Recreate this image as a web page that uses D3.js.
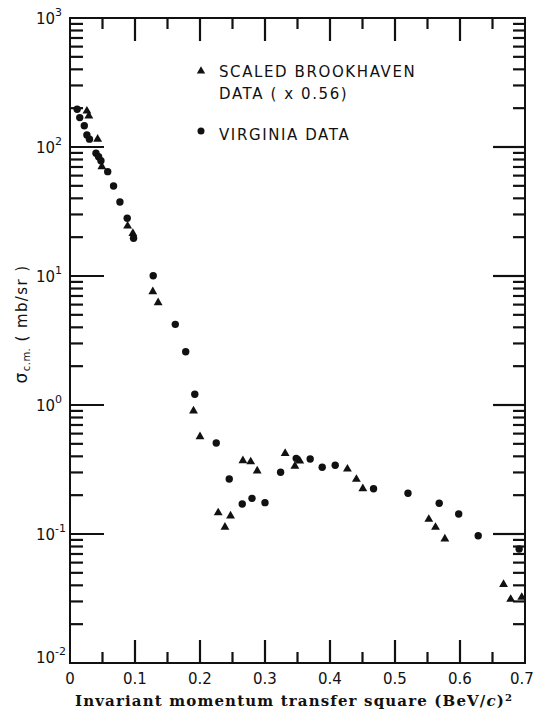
<!DOCTYPE html>
<html>
<head>
<meta charset="utf-8">
<script src="https://cdn.jsdelivr.net/npm/d3@7"></script>
<style>
  html, body { margin: 0; padding: 0; background: #fff; }
  svg { display: block; }
  text { fill: #111; }
</style>
</head>
<body>
<svg id="chart" width="535" height="712"></svg>
<script>
// ---------- data ----------
const brookhavenQ = [0.026, 0.029, 0.0425, 0.049, 0.0886, 0.0967, 0.1274, 0.1356, 0.190, 0.200,
  0.228, 0.2384, 0.247, 0.266, 0.278, 0.288, 0.331, 0.346, 0.3535, 0.4268, 0.4406, 0.4505,
  0.552, 0.5623, 0.5767, 0.667, 0.678, 0.695];
const brookhavenSigma = [190, 174, 115, 70.4, 24.4, 21.4, 7.56, 6.21, 0.899, 0.568,
  0.146, 0.113, 0.138, 0.370, 0.363, 0.308, 0.422, 0.336, 0.368, 0.319, 0.2655, 0.2245,
  0.130, 0.1127, 0.0915, 0.0407, 0.0312, 0.0323];
const virginiaQ = [0.011, 0.015, 0.022, 0.026, 0.030, 0.040, 0.044, 0.0476, 0.058, 0.067,
  0.0768, 0.088, 0.0978, 0.128, 0.162, 0.178, 0.192, 0.225, 0.245, 0.265, 0.280, 0.300,
  0.324, 0.348, 0.3695, 0.388, 0.408, 0.467, 0.520, 0.568, 0.598, 0.628, 0.691];
const virginiaSigma = [196, 169, 146, 124, 115, 89.4, 84.1, 78.3, 64.4, 49.9,
  37.5, 28.0, 19.6, 10.05, 4.22, 2.59, 1.21, 0.507, 0.267, 0.171, 0.189, 0.175,
  0.301, 0.386, 0.381, 0.329, 0.341, 0.2245, 0.207, 0.173, 0.143, 0.097, 0.0765];

const xMajorTicks = [0, 0.1, 0.2, 0.3, 0.4, 0.5, 0.6, 0.7];
const xMinorTicks = [0.05, 0.15, 0.25, 0.35, 0.45, 0.55, 0.65];
const xTickLabels = ["0", "0.1", "0.2", "0.3", "0.4", "0.5", "0.6", "0.7"];
const yDecades = [1e-2, 1e-1, 1, 10, 100, 1000];
const yExponents = ["-2", "-1", "0", "1", "2", "3"];
const legendLabels = ["SCALED BROOKHAVEN", "DATA ( x 0.56)", "VIRGINIA DATA"];

// ---------- layout ----------
const L = 70, R = 525, T = 18, B = 663;
const svg = d3.select("#chart");
const x = d3.scaleLinear().domain([0, 0.7]).range([L, R]);
const y = d3.scaleLog().domain([1e-2, 1e3]).range([B, T]);

const yMinor = [];
yDecades.slice(0, -1).forEach(d => { for (let k = 2; k <= 9; k++) yMinor.push(d * k); });

const sans = "'DejaVu Sans', sans-serif";
const ink = "#111";

// frame
svg.append("rect").attr("x", L).attr("y", T).attr("width", R - L).attr("height", B - T)
  .attr("fill", "none").attr("stroke", ink).attr("stroke-width", 2);

// tick marks (inward)
const tickG = svg.append("g").attr("stroke", ink).attr("stroke-width", 2.2);
function xTicks(vals, len) {
  tickG.append("g").selectAll("line").data(vals).join("line")
    .attr("x1", d => x(d)).attr("x2", d => x(d)).attr("y1", B).attr("y2", B - len);
  tickG.append("g").selectAll("line").data(vals).join("line")
    .attr("x1", d => x(d)).attr("x2", d => x(d)).attr("y1", T).attr("y2", T + len);
}
function yTicks(vals, lenL, lenR) {
  tickG.append("g").selectAll("line").data(vals).join("line")
    .attr("x1", L).attr("x2", L + lenL).attr("y1", d => y(d)).attr("y2", d => y(d));
  tickG.append("g").selectAll("line").data(vals).join("line")
    .attr("x1", R).attr("x2", R - lenR).attr("y1", d => y(d)).attr("y2", d => y(d));
}
xTicks(xMajorTicks.slice(1, -1), 23);
xTicks(xMinorTicks, 11);
yTicks(yDecades.slice(1, -1), 34, 32);
yTicks(yMinor, 13, 12);

// x tick labels
svg.append("g").selectAll("text").data(xMajorTicks).join("text")
  .attr("x", (d, i) => x(d) - (i === xMajorTicks.length - 1 ? 3 : 0)).attr("y", 684)
  .attr("text-anchor", "middle")
  .attr("font-family", sans).attr("font-size", 15)
  .text((d, i) => xTickLabels[i]);

// y tick labels 10^n
const yl = svg.append("g");
yDecades.forEach((d, i) => {
  const t = yl.append("text")
    .attr("x", 36).attr("y", y(d) + (i === 0 ? 0 : 6))
    .attr("font-family", sans).attr("font-size", 15);
  t.append("tspan").text("10");
  t.append("tspan").attr("font-size", 11).attr("dy", -8).text(yExponents[i]);
});

// y title
const yt = svg.append("text")
  .attr("transform", `translate(27,${324}) rotate(-90)`)
  .attr("text-anchor", "middle")
  .attr("font-family", sans).attr("font-size", 15).attr("letter-spacing", 1.4);
yt.append("tspan").attr("font-size", 17).text("σ");
yt.append("tspan").attr("font-size", 10).attr("dy", 3).attr("letter-spacing", 0.5).text("c.m.");
yt.append("tspan").attr("dy", -3).text(" ( mb/sr )");

// x title
const xt = svg.append("text")
  .attr("x", 75).attr("y", 706)
  .attr("textLength", 437).attr("lengthAdjust", "spacing")
  .attr("font-family", "'DejaVu Serif', serif").attr("font-weight", "bold").attr("font-size", 15);
xt.append("tspan").text("Invariant momentum transfer square  (BeV/");
xt.append("tspan").attr("font-style", "italic").text("c");
xt.append("tspan").text(")");
xt.append("tspan").attr("font-size", 10).attr("dy", -5).text("2");

// data points
const tri = d3.symbol().type(d3.symbolTriangle).size(34);
svg.append("g").selectAll("path")
  .data(brookhavenQ.map((q, i) => [q, brookhavenSigma[i]]))
  .join("path")
  .attr("d", tri)
  .attr("transform", d => `translate(${x(d[0])},${y(d[1])})`)
  .attr("fill", ink);
svg.append("g").selectAll("circle")
  .data(virginiaQ.map((q, i) => [q, virginiaSigma[i]]))
  .join("circle")
  .attr("cx", d => x(d[0])).attr("cy", d => y(d[1])).attr("r", 3.7)
  .attr("fill", ink);

// legend
const lg = svg.append("g").attr("font-family", sans).attr("font-size", 15).attr("letter-spacing", 1.6);
lg.append("path").attr("d", d3.symbol().type(d3.symbolTriangle).size(30))
  .attr("transform", "translate(201,71)").attr("fill", ink);
lg.append("text").attr("x", 219).attr("y", 77).text(legendLabels[0]);
lg.append("text").attr("x", 219).attr("y", 99).text(legendLabels[1]);
lg.append("circle").attr("cx", 201).attr("cy", 131).attr("r", 3.5).attr("fill", ink);
lg.append("text").attr("x", 219).attr("y", 140).text(legendLabels[2]);
</script>
</body>
</html>
